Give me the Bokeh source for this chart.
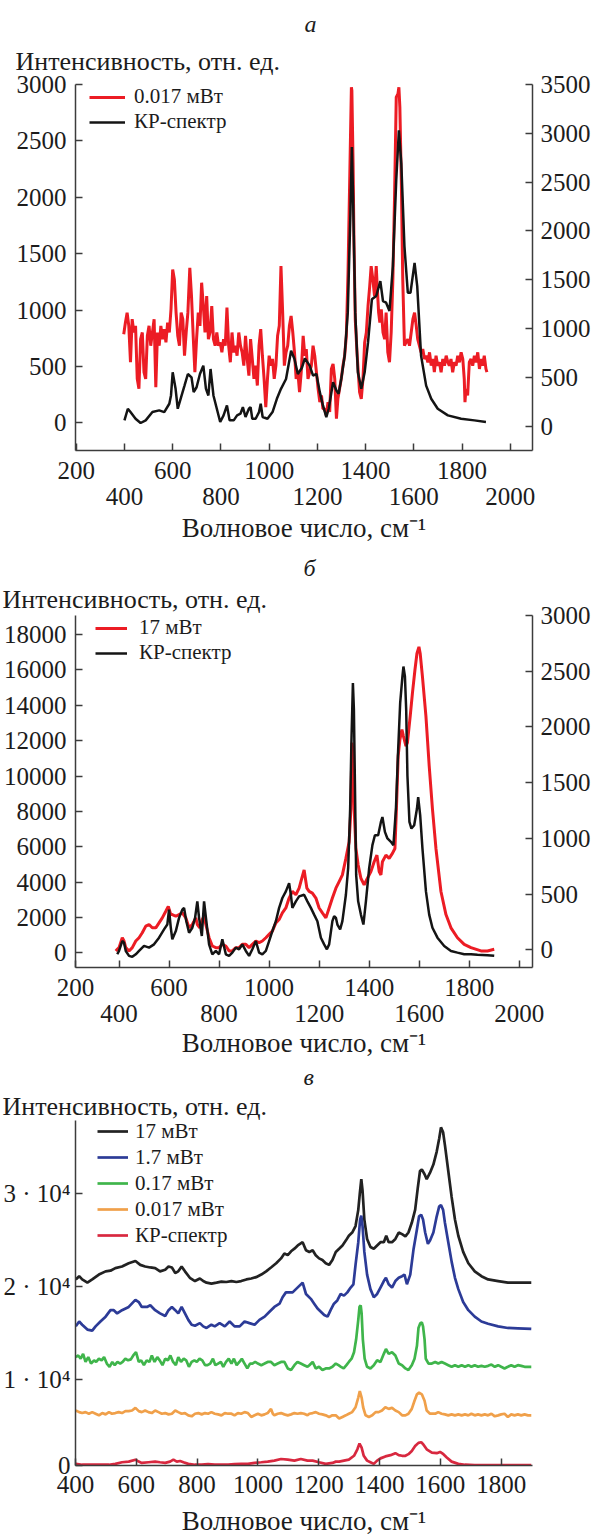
from bokeh.plotting import figure
from bokeh.models import Range1d, LinearAxis, FixedTicker, Title
from bokeh.layouts import column
from bokeh.embed import file_html
from bokeh.resources import INLINE

# ---------------- data (wavenumber, intensity) ----------------
# Panel a
A_RED_0017 = [(397,787),(404,890),(411,978),(418,861),(425,538),(432,920),(439,802),(446,861),(453,391),(460,303),(467,743),(474,802),(481,450),(488,391),(495,773),(502,861),(509,685),(516,802),(523,920),(530,317),(537,802),(544,685),(551,861),(558,743),(565,831),(572,714),(579,890),(586,802),(593,1008),(600,1360),(607,1272),(614,978),(621,773),(628,685),(635,978),(642,920),(649,596),(656,802),(663,978),(671,1375),(678,1125),(685,773),(692,450),(699,743),(706,978),(713,861),(720,1243),(727,1037),(734,802),(741,1125),(748,743),(755,802),(762,1037),(769,743),(776,685),(783,802),(790,685),(797,714),(804,626),(811,743),(818,685),(825,1022),(832,685),(839,538),(846,802),(853,626),(860,685),(867,596),(874,802),(881,685),(888,626),(895,508),(902,773),(909,567),(916,420),(923,743),(930,567),(937,391),(944,508),(951,332),(958,685),(965,831),(972,596),(979,391),(986,141),(993,391),(1000,596),(1007,508),(1014,567),(1021,391),(1028,508),(1035,773),(1042,861),(1049,1390),(1056,978),(1063,508),(1070,626),(1077,685),(1084,861),(1091,949),(1098,802),(1105,626),(1112,391),(1119,450),(1126,273),(1133,450),(1141,773),(1148,596),(1154,655),(1161,391),(1168,450),(1175,508),(1182,685),(1189,596),(1196,450),(1203,303),(1210,185),(1217,244),(1223,126),(1230,126),(1237,68),(1244,185),(1251,97),(1258,479),(1265,523),(1272,391),(1279,38),(1285,214),(1292,303),(1299,391),(1306,508),(1313,596),(1320,773),(1327,1331),(1334,2154),(1341,2976),(1343,2947),(1348,2300),(1352,1566),(1357,920),(1365,596),(1375,273),(1382,214),(1389,391),(1396,714),(1403,802),(1410,1037),(1417,1213),(1423,1390),(1430,1272),(1437,1125),(1444,1390),(1448,1213),(1454,978),(1459,890),(1465,1008),(1472,802),(1479,743),(1485,978),(1492,626),(1499,538),(1506,802),(1513,1272),(1520,2007),(1527,2888),(1534,2917),(1538,2976),(1542,2800),(1548,2154),(1554,1272),(1561,685),(1568,714),(1575,743),(1582,685),(1589,802),(1596,920),(1603,978),(1610,861),(1616,743),(1623,685),(1630,626),(1637,655),(1644,567),(1651,596),(1658,538),(1665,626),(1672,508),(1679,567),(1685,450),(1692,596),(1699,508),(1706,538),(1713,450),(1720,567),(1727,508),(1734,596),(1741,538),(1747,508),(1754,567),(1761,450),(1768,538),(1775,508),(1782,596),(1789,538),(1796,626),(1803,567),(1809,391),(1812,185),(1816,303),(1823,244),(1830,538),(1837,567),(1844,508),(1851,596),(1858,538),(1865,626),(1872,479),(1878,567),(1885,508),(1892,596),(1899,479),(1903,450)]
A_KP = [(400,61),(414,180),(425,146),(446,78),(467,34),(488,61),(516,146),(544,163),(565,146),(586,231),(593,316),(600,553),(612,384),(621,180),(635,299),(649,417),(663,536),(678,502),(687,350),(699,400),(713,536),(727,621),(738,384),(748,316),(757,587),(769,316),(783,180),(797,44),(811,112),(825,214),(836,61),(853,61),(867,112),(881,129),(891,197),(902,95),(916,180),(923,197),(930,78),(944,78),(958,146),(965,231),(973,95),(993,78),(1014,146),(1032,282),(1049,384),(1070,485),(1091,774),(1105,689),(1119,536),(1136,600),(1148,696),(1168,621),(1182,519),(1196,536),(1210,350),(1223,214),(1237,95),(1247,180),(1265,451),(1279,367),(1288,333),(1299,485),(1313,723),(1326,1164),(1337,2182),(1343,2861),(1348,2352),(1357,1164),(1368,553),(1382,384),(1396,553),(1410,859),(1426,1300),(1444,1334),(1461,1487),(1472,1283),(1485,1266),(1499,1181),(1513,1639),(1527,2522),(1538,3031),(1548,2691),(1561,1843),(1575,1368),(1586,1368),(1603,1673),(1614,1436),(1630,723),(1651,417),(1672,282),(1699,180),(1741,112),(1796,78),(1851,61),(1899,44)]

# Panel b
B_RED_17 = [(387,112),(393,206),(400,299),(413,860),(420,673),(427,299),(440,112),(453,299),(467,673),(480,860),(493,1140),(507,1514),(520,1607),(533,1420),(547,1420),(560,1701),(573,1981),(587,2355),(597,2635),(607,2168),(613,2168),(627,2075),(640,2168),(653,2261),(667,1981),(680,1420),(693,1607),(707,1981),(713,1607),(723,1420),(733,1888),(740,2075),(747,1607),(760,860),(773,392),(787,299),(800,299),(813,486),(827,392),(840,112),(853,112),(867,299),(880,299),(893,486),(907,486),(920,299),(933,486),(947,673),(960,579),(973,673),(987,860),(1000,1047),(1013,1234),(1027,1701),(1040,1888),(1053,2261),(1067,2542),(1080,3103),(1093,3476),(1107,3289),(1120,3663),(1127,4037),(1140,4691),(1151,3663),(1160,3476),(1173,3383),(1187,3103),(1200,2542),(1213,2261),(1227,1981),(1240,2542),(1253,3103),(1267,3663),(1280,4037),(1293,4411),(1307,5345),(1320,6280),(1327,8149),(1331,11887),(1335,11513),(1340,8149),(1347,5906),(1356,4972),(1367,4224),(1380,3850),(1393,4224),(1407,4598),(1420,5158),(1431,5532),(1440,4598),(1447,4411),(1453,5158),(1467,5532),(1480,5345),(1493,5626),(1503,5906),(1509,8149),(1516,11139),(1523,12074),(1531,12634),(1537,12261),(1547,11700),(1553,11887),(1564,13382),(1573,14690),(1583,15999),(1591,16933),(1599,17307),(1604,16933),(1613,15625),(1627,13382),(1640,10579),(1653,8149),(1667,5906),(1687,3476),(1707,2168),(1727,1420),(1753,860),(1780,486),(1807,299),(1847,112),(1873,112),(1900,206)]
B_KP = [(393,-39),(400,-9),(413,80),(420,65),(427,-9),(440,-53),(453,-62),(467,-39),(480,-9),(500,36),(520,21),(540,50),(560,110),(580,184),(593,228),(600,362),(607,199),(613,95),(627,169),(640,288),(653,362),(660,377),(669,258),(680,154),(693,199),(704,288),(713,436),(720,288),(731,125),(740,436),(749,258),(760,50),(773,-39),(787,-9),(800,-39),(813,95),(827,-39),(840,-53),(853,-24),(867,21),(880,6),(893,50),(907,-9),(920,-53),(933,6),(947,80),(960,-24),(973,-39),(987,-9),(1000,80),(1013,169),(1027,258),(1040,377),(1053,466),(1067,525),(1080,599),(1087,495),(1093,377),(1107,436),(1120,480),(1140,495),(1153,436),(1167,377),(1180,317),(1193,258),(1207,110),(1220,50),(1231,6),(1240,50),(1253,258),(1260,303),(1267,288),(1273,228),(1284,184),(1293,258),(1307,495),(1316,733),(1324,1266),(1329,1860),(1335,2394),(1339,2156),(1343,1504),(1348,673),(1356,436),(1367,317),(1377,228),(1387,436),(1400,733),(1413,940),(1423,1029),(1436,1029),(1447,1148),(1453,1192),(1463,1059),(1473,1000),(1487,970),(1497,940),(1507,1266),(1516,1800),(1524,2216),(1533,2453),(1537,2542),(1543,2453),(1548,2156),(1553,1563),(1561,1148),(1569,1089),(1580,1118),(1591,1266),(1596,1370),(1604,1207),(1613,911),(1627,525),(1640,317),(1653,199),(1673,110),(1700,36),(1727,-9),(1753,-24),(1780,-39),(1807,-39),(1833,-44),(1873,-47),(1900,-53)]

# Panel c (stacked spectra)
C_17 = [(401,20794),(412,21142),(422,20794),(439,20445),(455,20794),(477,21316),(499,21664),(515,21734),(531,22013),(553,22187),(575,22535),(597,22779),(613,22361),(629,22187),(646,22082),(662,22013),(678,21664),(695,21838),(706,22187),(717,22082),(728,21490),(738,21664),(749,22187),(760,21664),(776,20968),(793,20619),(809,20898),(820,20619),(831,20445),(847,20341),(864,20445),(880,20550),(896,20515),(913,20619),(929,20515),(945,20619),(962,20794),(978,20898),(994,21037),(1011,21316),(1027,21664),(1043,22082),(1060,22535),(1076,23057),(1087,23580),(1098,23406),(1109,23824),(1120,24102),(1131,24451),(1147,24799),(1158,23928),(1169,23754),(1180,23928),(1190,23406),(1201,23057),(1212,22883),(1223,22535),(1234,22361),(1245,22883),(1256,23754),(1267,24102),(1278,24451),(1289,24973),(1299,25496),(1310,25844),(1321,26540),(1330,28282),(1335,30023),(1340,31591),(1344,30372),(1350,27237),(1359,25147),(1370,24277),(1381,24102),(1392,24451),(1403,24799),(1414,24799),(1422,25496),(1430,24799),(1441,24799),(1452,25147),(1463,25844),(1474,25669),(1485,25426),(1495,25844),(1506,26889),(1517,28282),(1526,30720),(1533,32462),(1539,32636),(1548,32113),(1555,31591),(1566,32287),(1577,33158),(1588,34551),(1596,35944),(1602,37163),(1609,36640),(1615,35247),(1626,32462),(1637,29675),(1648,27237),(1659,25496),(1675,23754),(1692,22535),(1713,21664),(1735,21142),(1757,20794),(1790,20619),(1822,20445),(1855,20445),(1899,20445)]
C_1_7 = [(401,15743),(412,16266),(422,15917),(439,15395),(455,15291),(466,15743),(482,16266),(499,16788),(515,17485),(526,17485),(537,17136),(553,17485),(575,17833),(597,18599),(608,18355),(618,17833),(635,17833),(646,18007),(662,17485),(678,17136),(695,16858),(706,17485),(717,17833),(728,17485),(738,17136),(749,17833),(760,17136),(771,16440),(782,15917),(793,15813),(809,16091),(820,15743),(831,15569),(847,15917),(858,15743),(874,16091),(891,15743),(907,16266),(923,15743),(940,15743),(956,16266),(972,16091),(989,15917),(1005,16440),(1022,16788),(1038,17310),(1054,17833),(1071,18181),(1081,18878),(1092,19400),(1103,19400),(1114,19400),(1125,19749),(1136,20097),(1147,20445),(1158,19226),(1174,18704),(1185,18181),(1196,17659),(1207,17310),(1218,16962),(1229,16788),(1239,17485),(1250,18181),(1261,18530),(1272,19226),(1283,19052),(1294,19400),(1305,19923),(1314,20271),(1321,22361),(1330,24799),(1336,27237),(1340,27655),(1344,26540),(1350,23754),(1359,21316),(1370,19749),(1381,18878),(1392,19226),(1403,19923),(1414,20619),(1421,20968),(1430,20271),(1441,19923),(1452,20619),(1463,20968),(1474,21142),(1482,21316),(1490,20271),(1501,21316),(1512,24102),(1523,26192),(1530,27585),(1537,27760),(1543,27237),(1550,25844),(1559,24624),(1566,24973),(1577,25844),(1588,27585),(1596,28630),(1602,28804),(1609,28282),(1615,26889),(1626,24799),(1637,22709),(1648,20968),(1659,19749),(1675,18355),(1692,17485),(1713,16788),(1735,16266),(1757,16022),(1790,15743),(1822,15569),(1855,15534),(1899,15464)]
C_0_17 = [(401,12434),(409,12608),(417,12260),(425,12783),(433,11912),(442,12434),(451,11738),(461,12086),(468,11912),(477,12260),(486,12086),(494,12434),(503,11738),(512,11389),(521,11912),(529,11564),(538,11912),(547,11738),(555,11912),(564,12260),(573,12086),(582,12190),(590,12608),(599,12957),(608,11912),(616,12086),(625,11564),(634,12086),(643,11912),(651,12608),(660,11912),(669,12434),(677,12086),(686,11564),(695,12260),(704,12086),(712,12608),(721,11912),(730,11564),(738,12434),(747,11912),(756,12260),(764,12086),(773,11389),(782,11912),(791,12086),(799,11912),(808,12260),(817,12086),(826,11564),(834,11564),(843,11738),(852,12260),(860,11564),(869,11738),(878,11912),(886,11389),(895,11912),(904,12260),(913,11738),(921,12260),(930,11564),(939,11912),(947,12260),(956,11738),(965,11215),(974,11738),(982,11738),(991,11912),(1000,11738),(1011,11564),(1022,11738),(1032,11912),(1043,11912),(1054,11564),(1065,11738),(1076,11912),(1087,11912),(1098,11215),(1109,11041),(1120,11564),(1130,11912),(1141,11738),(1152,11564),(1163,11389),(1169,11564),(1180,11912),(1190,11215),(1201,11389),(1212,11041),(1223,11215),(1234,11215),(1245,11389),(1256,11738),(1265,11564),(1273,11389),(1282,11215),(1291,11564),(1299,11912),(1308,12260),(1316,12957),(1323,14350),(1330,16440),(1334,17833),(1338,18007),(1341,17136),(1345,14350),(1351,12260),(1359,11389),(1370,11215),(1381,11564),(1392,12086),(1403,11912),(1414,12783),(1421,13305),(1430,12783),(1441,12957),(1452,12608),(1463,11738),(1474,11564),(1485,11215),(1495,11041),(1506,11564),(1515,12260),(1523,13653),(1528,15569),(1534,16091),(1539,16161),(1543,15743),(1548,14350),(1552,12260),(1561,11738),(1572,11738),(1583,11912),(1593,11738),(1604,11912),(1615,11738),(1626,11564),(1637,11389),(1648,11564),(1659,11389),(1670,11564),(1681,11389),(1692,11564),(1702,11389),(1713,11564),(1724,11389),(1735,11494),(1746,11389),(1757,11494),(1768,11633),(1779,11389),(1790,11564),(1800,11389),(1811,11215),(1822,11389),(1833,11564),(1844,11389),(1855,11564),(1866,11494),(1877,11389),(1888,11389),(1899,11389)]
C_0_017 = [(401,6687),(412,6513),(422,6409),(433,6513),(444,6339),(455,6513),(466,6339),(477,6165),(488,6409),(499,6269),(510,6513),(520,6339),(531,6409),(542,6513),(553,6409),(564,6618),(575,6618),(586,6687),(597,6966),(608,6618),(618,6513),(629,6687),(640,6513),(651,6409),(662,6687),(673,6513),(684,6339),(695,6409),(706,6269),(717,6339),(728,6687),(738,6513),(749,6339),(760,6409),(771,6165),(782,6060),(793,6339),(804,6409),(815,6269),(826,6409),(836,6339),(847,6513),(858,6339),(869,6269),(880,6165),(891,6409),(902,6339),(913,6339),(923,6165),(934,6409),(945,6339),(956,6513),(967,6409),(978,5991),(989,6165),(1000,6339),(1011,6165),(1022,6269),(1032,6409),(1043,6862),(1049,6339),(1054,6165),(1065,6339),(1076,6409),(1087,6269),(1098,6165),(1109,6269),(1120,6409),(1130,6339),(1141,6409),(1152,6339),(1163,6165),(1169,6339),(1180,6409),(1190,6513),(1201,6339),(1212,6269),(1223,6165),(1234,5991),(1245,6165),(1256,6165),(1267,5817),(1278,5991),(1289,6165),(1299,6339),(1310,6513),(1321,7036),(1330,8081),(1335,8777),(1341,8081),(1346,7036),(1354,6165),(1365,5991),(1376,6165),(1387,6513),(1397,6513),(1408,6687),(1419,7036),(1430,6862),(1441,6966),(1452,6687),(1463,6513),(1474,6165),(1485,6165),(1495,6339),(1506,6862),(1515,7732),(1523,8429),(1530,8603),(1539,8429),(1548,7732),(1555,6687),(1566,6339),(1583,6339),(1593,6513),(1604,6339),(1615,6269),(1626,6165),(1637,6269),(1648,6165),(1659,6269),(1670,6165),(1681,6269),(1692,6165),(1702,6339),(1713,6165),(1724,6269),(1735,6165),(1746,6269),(1757,6165),(1768,6339),(1779,6060),(1790,6165),(1800,6269),(1811,6339),(1822,5991),(1833,6269),(1844,6165),(1855,6269),(1866,6165),(1877,6269),(1888,6165),(1899,6165)]
C_KP = [(401,940),(422,850),(444,850),(466,850),(488,850),(510,850),(531,940),(553,1115),(575,1184),(597,1393),(608,1184),(618,1045),(640,1115),(662,1184),(678,1115),(695,1045),(711,1184),(722,1393),(733,1184),(744,1254),(755,1115),(771,940),(793,850),(815,850),(836,906),(858,850),(880,871),(902,850),(923,906),(945,940),(967,940),(989,1045),(1011,1115),(1032,1184),(1054,1289),(1076,1463),(1098,1393),(1120,1289),(1141,1463),(1163,1289),(1180,1289),(1201,1115),(1223,940),(1245,1045),(1256,1184),(1267,1184),(1283,1289),(1299,1393),(1316,1811),(1327,2508),(1334,3135),(1341,2682),(1348,1811),(1359,1289),(1370,1115),(1381,940),(1392,1289),(1403,1533),(1419,1742),(1436,1881),(1452,2090),(1463,1881),(1474,1811),(1485,1811),(1495,1985),(1506,2334),(1517,2856),(1528,3204),(1537,3274),(1544,3030),(1555,2508),(1572,2159),(1588,2090),(1599,2229),(1610,1985),(1621,1637),(1637,1184),(1659,940),(1681,850),(1713,800),(1746,800),(1790,800),(1844,800),(1899,800)]

# ticks / labels
X_TICKS_AB = [200, 400, 600, 800, 1000, 1200, 1400, 1600, 1800, 2000]
X_TICKS_C = [400, 600, 800, 1000, 1200, 1400, 1600, 1800]
YL_TICKS_A = [0, 500, 1000, 1500, 2000, 2500, 3000]
YR_TICKS_A = [0, 500, 1000, 1500, 2000, 2500, 3000, 3500]
YL_TICKS_B = [0, 2000, 4000, 6000, 8000, 10000, 12000, 14000, 16000, 18000]
YR_TICKS_B = [0, 500, 1000, 1500, 2000, 2500, 3000]
Y_TICKS_C = [0, 10000, 20000, 30000]
Y_LABELS_C = ["0", "1 · 10⁴", "2 · 10⁴", "3 · 10⁴"]

Y_TITLE = "Интенсивность, отн. ед."
X_TITLE = "Волновое число, см⁻¹"

# ---------------- styling ----------------
FONT = "Liberation Serif"
AXC = "#3c3c3c"
TXT = "#1c1c1c"
RED = "#ec1c24"
BLK = "#141414"
W = 597
L_BORDER = 75


def xs(s):
    return [p[0] for p in s]


def ys(s):
    return [p[1] for p in s]


def style_axis(ax, size="25px", standoff=6):
    ax.axis_line_color = AXC
    ax.axis_line_width = 1.5
    ax.major_tick_line_color = AXC
    ax.major_tick_line_width = 1.5
    ax.major_tick_in = 7
    ax.major_tick_out = 0
    ax.minor_tick_line_color = None
    ax.major_label_text_font = FONT
    ax.major_label_text_font_size = size
    ax.major_label_text_color = TXT
    ax.major_label_standoff = standoff
    ax.axis_label_text_font = FONT
    ax.axis_label_text_font_style = "normal"
    ax.axis_label_text_font_size = "27px"
    ax.axis_label_text_color = TXT


def clamp(vals, lo, hi):
    return [min(max(v, lo), hi) for v in vals]


def base_fig(height, top, bottom, right, xr, yr):
    p = figure(width=W, height=height, x_range=xr, y_range=yr, title=None,
               output_backend="svg", toolbar_location=None,
               x_axis_location=None, y_axis_location=None,
               min_border_left=L_BORDER, min_border_right=right,
               min_border_top=top, min_border_bottom=bottom)
    p.grid.visible = False
    p.outline_line_color = None
    p.background_fill_color = "white"
    p.border_fill_color = "white"
    return p


def add_titles(p, letter, title_offset, letter_offset, s1, s2):
    t1 = Title(text=Y_TITLE, align="left", offset=title_offset, standoff=s1,
               text_font=FONT, text_font_size="26px", text_font_style="normal",
               text_color=TXT)
    p.add_layout(t1, "above")
    t2 = Title(text=letter, align="left", offset=letter_offset, standoff=s2,
               text_font=FONT, text_font_size="24px", text_font_style="italic",
               text_color=TXT)
    p.add_layout(t2, "above")


def add_two_row_x(p, ticks, lo, hi, s1, s2, als):
    pos = clamp(ticks, lo, hi)
    row1 = {int(pp): (str(t) if i % 2 == 0 else "") for i, (pp, t) in enumerate(zip(pos, ticks))}
    row2 = {int(pp): (str(t) if i % 2 == 1 else "") for i, (pp, t) in enumerate(zip(pos, ticks))}
    ax1 = LinearAxis(ticker=FixedTicker(ticks=pos), major_label_overrides=row1)
    style_axis(ax1, standoff=s1)
    p.add_layout(ax1, "below")
    ax2 = LinearAxis(ticker=FixedTicker(ticks=pos), major_label_overrides=row2,
                     axis_label=X_TITLE)
    style_axis(ax2, standoff=s2)
    ax2.axis_line_color = None
    ax2.major_tick_line_color = None
    ax2.axis_label_standoff = als
    p.add_layout(ax2, "below")


def style_legend(p, loc, glyph_w, row_h, spacing, standoff):
    lg = p.legend[0]
    lg.location = loc
    lg.margin = 0
    lg.padding = 0
    lg.spacing = spacing
    lg.label_height = row_h
    lg.glyph_height = row_h
    lg.glyph_width = glyph_w
    lg.label_standoff = standoff
    lg.label_text_font = FONT
    lg.label_text_font_size = "21px"
    lg.label_text_color = TXT
    lg.background_fill_alpha = 0
    lg.border_line_color = None


# ---------------- panel a ----------------
XA = (197, 2092)
pa = base_fig(545, 84, 93, 65, Range1d(*XA), Range1d(-244, 3000))
pa.extra_y_ranges = {"r": Range1d(-247.5, 3500)}
ya = LinearAxis(ticker=FixedTicker(ticks=YL_TICKS_A))
style_axis(ya, standoff=9)
pa.add_layout(ya, "left")
yar = LinearAxis(y_range_name="r", ticker=FixedTicker(ticks=YR_TICKS_A))
style_axis(yar, standoff=8)
pa.add_layout(yar, "right")
add_two_row_x(pa, X_TICKS_AB, *XA, s1=11, s2=6, als=5)
add_titles(pa, "а", -60, 229, 17, 0)
pa.line(xs(A_RED_0017), ys(A_RED_0017), color=RED, line_width=3.0, legend_label="0.017 мВт")
pa.line(xs(A_KP), ys(A_KP), color=BLK, line_width=2.5, y_range_name="r", legend_label="КР-спектр")
style_legend(pa, (14, 316), 36, 22, -6, 9)

# ---------------- panel b ----------------
XB = (226, 2053)
pb = base_fig(515, 70, 90, 65, Range1d(*XB), Range1d(-824, 19081))
pb.extra_y_ranges = {"r": Range1d(-157.5, 3000)}
yb = LinearAxis(ticker=FixedTicker(ticks=YL_TICKS_B))
style_axis(yb, standoff=9)
pb.add_layout(yb, "left")
ybr = LinearAxis(y_range_name="r", ticker=FixedTicker(ticks=YR_TICKS_B))
style_axis(ybr, standoff=8)
pb.add_layout(ybr, "right")
add_two_row_x(pb, X_TICKS_AB, *XB, s1=11, s2=6, als=3)
add_titles(pb, "б", -73, 228, 4, 0)
pb.line(xs(B_RED_17), ys(B_RED_17), color=RED, line_width=3.0, legend_label="17 мВт")
pb.line(xs(B_KP), ys(B_KP), color=BLK, line_width=2.5, y_range_name="r", legend_label="КР-спектр")
style_legend(pb, (20, 302), 32, 22, -6, 12)

# ---------------- panel c ----------------
XC = (400, 1903)
YC = (766, 37900)
pc = base_fig(478, 60, 65, 62, Range1d(*XC), Range1d(*YC))
yc_pos = clamp(Y_TICKS_C, *YC)
yc = LinearAxis(ticker=FixedTicker(ticks=yc_pos),
                major_label_overrides={int(pp): lab for pp, lab in zip(yc_pos, Y_LABELS_C)})
style_axis(yc, standoff=5)
pc.add_layout(yc, "left")
xc = LinearAxis(ticker=FixedTicker(ticks=X_TICKS_C), axis_label=X_TITLE)
style_axis(xc, standoff=10)
xc.axis_label_standoff = 10
pc.add_layout(xc, "below")
add_titles(pc, "в", -73, 228, 0, 0)
SERIES_C = [
    (C_17, "#222222", "17 мВт"),
    (C_1_7, "#2c3b97", "1.7 мВт"),
    (C_0_17, "#3fb54b", "0.17 мВт"),
    (C_0_017, "#f0a04a", "0.017 мВт"),
    (C_KP, "#d8283f", "КР-спектр"),
]
for s, col, lab in SERIES_C:
    pc.line(xs(s), ys(s), color=col, line_width=2.7, legend_label=lab)
style_legend(pc, (22, 217), 31, 26, -2, 7)

layout = column(pa, pb, pc, spacing=0)
open("out.html", "w").write(file_html(layout, INLINE))
